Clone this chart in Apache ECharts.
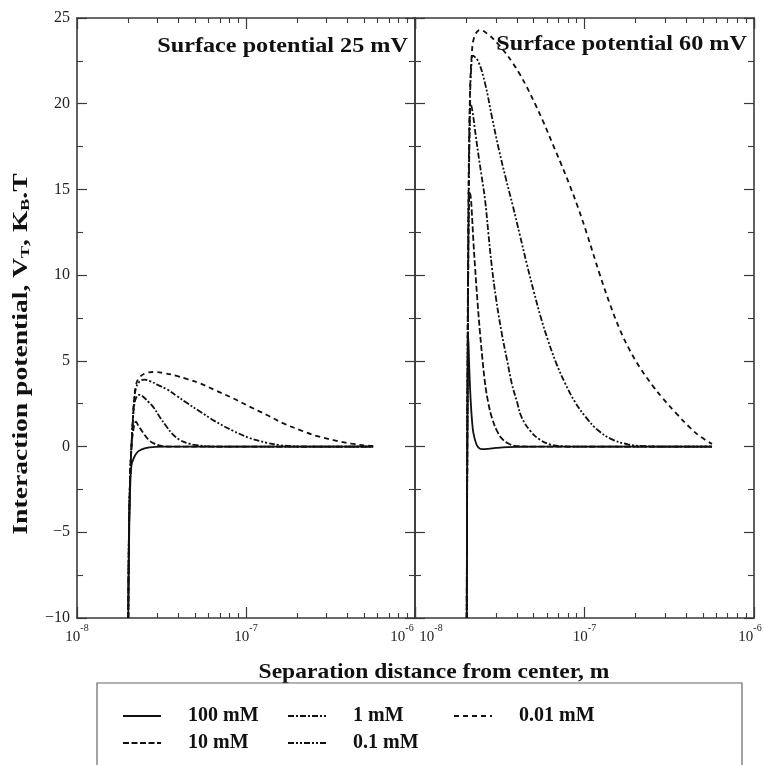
<!DOCTYPE html>
<html>
<head>
<meta charset="utf-8">
<script src="https://cdn.jsdelivr.net/npm/echarts@6/dist/echarts.min.js"></script>
<style>
  html, body { margin: 0; padding: 0; background: #fff; }
  #chart { width: 764px; height: 765px; }
</style>
</head>
<body>
<div id="chart"></div>
<script>
// Total DLVO interaction potential V_T (in kB·T) versus separation distance from
// the particle centre (m), for five electrolyte concentrations.

const concentrations = ['100 mM', '10 mM', '1 mM', '0.1 mM', '0.01 mM'];

// ---- Surface potential 25 mV : [distance (m), V_T (kB·T)] ----
const pot25_100mM = [[2.01e-8,-10],[2.04e-8,-4.5],[2.07e-8,-2.0],[2.1e-8,-1.1],[2.16e-8,-0.7],[2.26e-8,-0.36],[2.4e-8,-0.18],[2.58e-8,-0.07],[2.9e-8,-0.02],[3.3e-8,0],[5.65e-7,0]];
const pot25_10mM = [[2.01e-8,-10],[2.03e-8,-5],[2.06e-8,-2],[2.1e-8,0],[2.15e-8,0.9],[2.19e-8,1.3],[2.23e-8,1.45],[2.3e-8,1.25],[2.47e-8,0.78],[2.65e-8,0.4],[2.83e-8,0.2],[3.05e-8,0.07],[3.25e-8,0.01],[3.6e-8,0],[5.65e-7,0]];
const pot25_1mM = [[2.01e-8,-10],[2.03e-8,-5],[2.06e-8,-2],[2.1e-8,0],[2.14e-8,1.5],[2.18e-8,2.4],[2.24e-8,2.85],[2.34e-8,3.02],[2.5e-8,2.85],[2.65e-8,2.6],[2.83e-8,2.3],[3.1e-8,1.7],[3.39e-8,1.16],[3.7e-8,0.7],[4.07e-8,0.38],[4.6e-8,0.17],[5.1e-8,0.08],[6.1e-8,0.01],[7e-8,0],[5.65e-7,0]];
const pot25_01mM = [[2.01e-8,-10],[2.03e-8,-5],[2.06e-8,-2],[2.1e-8,0],[2.14e-8,1.5],[2.18e-8,2.7],[2.24e-8,3.45],[2.35e-8,3.8],[2.5e-8,3.9],[2.7e-8,3.82],[3.0e-8,3.6],[3.39e-8,3.35],[3.9e-8,2.95],[4.46e-8,2.55],[5.34e-8,2.05],[6.5e-8,1.5],[8.38e-8,0.92],[1.05e-7,0.5],[1.33e-7,0.22],[1.6e-7,0.08],[1.85e-7,0.02],[2.2e-7,0],[5.65e-7,0]];
const pot25_001mM = [[2.01e-8,-10],[2.03e-8,-5],[2.06e-8,-2],[2.1e-8,0],[2.14e-8,1.6],[2.18e-8,2.8],[2.24e-8,3.65],[2.35e-8,4.05],[2.55e-8,4.28],[2.85e-8,4.35],[3.3e-8,4.28],[3.89e-8,4.12],[4.5e-8,3.93],[5.34e-8,3.69],[6.7e-8,3.25],[8.41e-8,2.81],[1.05e-7,2.33],[1.33e-7,1.84],[1.65e-7,1.37],[2.09e-7,0.96],[2.6e-7,0.63],[3.29e-7,0.38],[4.2e-7,0.17],[5.18e-7,0.06],[5.66e-7,0.04]];

// ---- Surface potential 60 mV ----
const pot60_100mM = [[2.02e-8,-10],[2.03e-8,-2],[2.045e-8,3.5],[2.06e-8,6.5],[2.09e-8,4.6],[2.13e-8,2.7],[2.17e-8,1.5],[2.21e-8,0.8],[2.3e-8,0.15],[2.38e-8,-0.08],[2.47e-8,-0.15],[2.7e-8,-0.13],[3.0e-8,-0.08],[3.5e-8,-0.03],[4.2e-8,-0.01],[5.5e-8,0],[5.65e-7,0]];
const pot60_10mM = [[2.02e-8,-10],[2.04e-8,2],[2.06e-8,10],[2.08e-8,14.2],[2.1e-8,14.8],[2.13e-8,14.6],[2.16e-8,13.8],[2.21e-8,12.0],[2.26e-8,10.5],[2.34e-8,8.4],[2.42e-8,6.6],[2.5e-8,5.1],[2.59e-8,3.7],[2.7e-8,2.6],[2.84e-8,1.7],[3.05e-8,0.9],[3.3e-8,0.4],[3.6e-8,0.15],[4.0e-8,0.03],[5e-8,0],[5.65e-7,0]];
const pot60_1mM = [[2.02e-8,-10],[2.04e-8,3],[2.07e-8,13],[2.1e-8,18.3],[2.13e-8,20.0],[2.18e-8,19.6],[2.25e-8,18.6],[2.36e-8,17.1],[2.47e-8,15.8],[2.59e-8,14.4],[2.7e-8,12.6],[2.84e-8,10.5],[3.0e-8,8.7],[3.25e-8,6.6],[3.5e-8,5.0],[3.72e-8,3.7],[4.0e-8,2.6],[4.26e-8,1.7],[4.8e-8,0.9],[5.46e-8,0.4],[6.3e-8,0.12],[7.5e-8,0.02],[9e-8,0],[5.65e-7,0]];
const pot60_01mM = [[2.02e-8,-10],[2.04e-8,3],[2.07e-8,14],[2.11e-8,20.2],[2.15e-8,22.2],[2.19e-8,22.8],[2.353e-8,22.5],[2.588e-8,21.2],[2.847e-8,19.2],[3.13e-8,17.3],[3.443e-8,15.6],[3.786e-8,14.0],[4.165e-8,12.3],[4.58e-8,10.6],[5.036e-8,9.0],[5.538e-8,7.5],[6.09e-8,6.2],[6.79e-8,4.9],[7.674e-8,3.7],[8.79e-8,2.6],[1.0205e-7,1.7],[1.2014e-7,0.95],[1.453e-7,0.42],[1.806e-7,0.13],[2.275e-7,0.02],[2.985e-7,0],[5.65e-7,0]];
const pot60_001mM = [[2.02e-8,-10],[2.04e-8,4],[2.07e-8,15],[2.11e-8,20.5],[2.16e-8,22.8],[2.24e-8,23.9],[2.418e-8,24.3],[2.733e-8,24.0],[3.046e-8,23.55],[3.396e-8,23.0],[3.786e-8,22.35],[4.165e-8,21.7],[4.58e-8,20.95],[5.105e-8,20.0],[5.768e-8,18.85],[6.52e-8,17.6],[7.267e-8,16.5],[8.21e-8,15.2],[9.155e-8,13.95],[1.034e-7,12.4],[1.234e-7,10.0],[1.414e-7,8.3],[1.62e-7,6.8],[1.855e-7,5.6],[2.126e-7,4.6],[2.502e-7,3.6],[2.905e-7,2.8],[3.466e-7,1.95],[4.193e-7,1.1],[4.8e-7,0.6],[5.65e-7,0.15]];

const panelTitles = ['Surface potential 25 mV', 'Surface potential 60 mV'];
const panelData = [
  [pot25_100mM, pot25_10mM, pot25_1mM, pot25_01mM, pot25_001mM],
  [pot60_100mM, pot60_10mM, pot60_1mM, pot60_01mM, pot60_001mM]
];

// axis ranges and tick positions
const xMin = 1e-8, xMax = 1e-6;
const yMin = -10, yMax = 25, yStep = 5;
const decadeExponents = [-8, -7];
const minorMultipliers = [2, 3, 4, 5, 6, 7, 8, 9];
const minorTickPositions = [];
decadeExponents.forEach(e => minorMultipliers.forEach(m => minorTickPositions.push(e + Math.log10(m))));

// line styles per concentration
const dashPatterns = ['solid', [6, 2.5], [6, 2, 2, 2], [6, 2, 2, 2, 2, 2], [5, 4]];

const serif = 'Liberation Serif, Times New Roman, serif';
const ink = '#111';
const frame = { color: '#3a3a3a', width: 1.6 };

const grids = [
  { left: 77, top: 18, width: 338, height: 600, outerBoundsMode: 'none' },
  { left: 415, top: 18, width: 339, height: 600, outerBoundsMode: 'none' }
];

// decade labels "10^n"; the shared middle labels are nudged apart
const tickFont = { fontFamily: serif, color: '#222' };
const decadeRich = {
  b: Object.assign({ fontSize: 15, lineHeight: 22, verticalAlign: 'bottom' }, tickFont),
  bl: Object.assign({ fontSize: 15, lineHeight: 22, verticalAlign: 'bottom', padding: [0, 0, 0, 32] }, tickFont),
  s: Object.assign({ fontSize: 10, lineHeight: 12, verticalAlign: 'top' }, tickFont),
  sr: Object.assign({ fontSize: 10, lineHeight: 12, verticalAlign: 'top', padding: [0, 26, 0, 0] }, tickFont),
  se: Object.assign({ fontSize: 10, lineHeight: 12, verticalAlign: 'top', padding: [0, 8, 0, 0] }, tickFont)
};
function decadeLabel(gi) {
  return v => {
    const e = Math.round(Math.log10(v));
    let base = 'b', sup = 's';
    if (gi === 0 && e === -6) sup = 'sr';
    if (gi === 1 && e === -8) base = 'bl';
    if (gi === 1 && e === -6) sup = 'se';
    return '{' + base + '|10}{' + sup + '|' + e + '}';
  };
}

const xAxes = [];
const yAxes = [];
const series = [];

grids.forEach((g, gi) => {
  const logAxis = (position, labels) => ({
    type: 'log', logBase: 10, gridIndex: gi, min: xMin, max: xMax, position,
    axisLine: { show: true, onZero: false, lineStyle: frame },
    axisTick: { show: true, inside: true, length: 11, lineStyle: { color: frame.color, width: 1.2 } },
    minorTick: { show: false },
    splitLine: { show: false },
    axisLabel: labels ? { show: true, margin: 5, formatter: decadeLabel(gi), rich: decadeRich } : { show: false }
  });
  const minorAxis = position => ({
    type: 'value', gridIndex: gi, min: -8, max: -6, position,
    axisLine: { show: false, onZero: false },
    axisTick: { show: true, inside: true, length: 5, customValues: minorTickPositions, lineStyle: { color: frame.color, width: 1.1 } },
    axisLabel: { show: false },
    splitLine: { show: false }
  });
  const xBase = xAxes.length;
  xAxes.push(logAxis('bottom', true), logAxis('top', false), minorAxis('bottom'), minorAxis('top'));

  const valAxis = (position, labels) => ({
    type: 'value', gridIndex: gi, min: yMin, max: yMax, interval: yStep, position,
    axisLine: { show: true, onZero: false, lineStyle: frame },
    axisTick: { show: true, inside: true, length: 10, lineStyle: { color: frame.color, width: 1.2 } },
    minorTick: { show: true, splitNumber: 2, length: 6, lineStyle: { color: frame.color, width: 1.1 } },
    splitLine: { show: false },
    axisLabel: labels ? {
      show: true, margin: 7, fontFamily: serif, fontSize: 16, color: '#222',
      formatter: v => String(v).replace('-', '\u2212')
    } : { show: false }
  });
  const yBase = yAxes.length;
  yAxes.push(valAxis('left', gi === 0), valAxis('right', false));

  panelData[gi].forEach((data, si) => {
    series.push({
      type: 'line', name: concentrations[si], data,
      xAxisIndex: xBase, yAxisIndex: yBase,
      symbol: 'none', smooth: 0.4, clip: true, silent: true,
      lineStyle: { color: ink, width: 1.8, type: dashPatterns[si] },
      itemStyle: { color: ink }
    });
  });
});

const legendText = { fontFamily: serif, fontWeight: 'bold', fontSize: 20, color: ink, lineHeight: 20, padding: [0, 0, 0, 22] };
const legendColumns = [
  { left: 122, data: ['100 mM', '10 mM'] },
  { left: 287, data: ['1 mM', '0.1 mM'] },
  { left: 453, data: ['0.01 mM'] }
];

const option = {
  animation: false,
  backgroundColor: '#fff',
  grid: grids,
  xAxis: xAxes,
  yAxis: yAxes,
  series,
  legend: legendColumns.map(c => ({
    orient: 'vertical', left: c.left, top: 706, padding: 0,
    itemWidth: 38, itemHeight: 14, itemGap: 7,
    itemStyle: { opacity: 0 },
    data: c.data, textStyle: legendText, selectedMode: false
  })),
  graphic: [
    {
      type: 'text', x: 408, y: 46, scaleX: 1.1,
      style: { text: panelTitles[0], font: 'bold 22px ' + serif, fill: ink, align: 'right', verticalAlign: 'middle' }
    },
    {
      type: 'text', x: 747, y: 44, scaleX: 1.1,
      style: { text: panelTitles[1], font: 'bold 22px ' + serif, fill: ink, align: 'right', verticalAlign: 'middle' }
    },
    {
      type: 'text', x: 434, y: 673, scaleX: 1.12,
      style: { text: 'Separation distance from center, m', font: 'bold 21px ' + serif, fill: ink, align: 'center', verticalAlign: 'middle' }
    },
    {
      type: 'text', x: 20, y: 354, rotation: Math.PI / 2, scaleX: 1.38,
      style: {
        text: '{t|Interaction potential, V}{s|T}{t|, K}{s|B}{t|.T}',
        align: 'center', verticalAlign: 'middle',
        rich: {
          t: { fontFamily: serif, fontWeight: 'bold', fontSize: 20, fill: ink, lineHeight: 24, verticalAlign: 'bottom' },
          s: { fontFamily: serif, fontWeight: 'bold', fontSize: 13, fill: ink, lineHeight: 12, verticalAlign: 'bottom' }
        }
      }
    },
    {
      type: 'rect', shape: { x: 97, y: 683, width: 645, height: 100 },
      style: { fill: 'none', stroke: '#666', lineWidth: 1.2 }
    }
  ]
};

const chart = echarts.init(document.getElementById('chart'), null, { renderer: 'canvas' });
chart.setOption(option);
</script>
</body>
</html>
